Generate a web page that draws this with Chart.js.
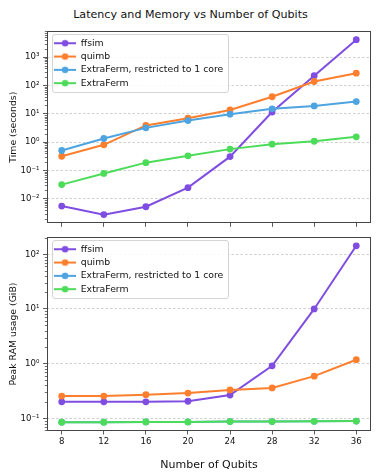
<!DOCTYPE html>
<html><head><meta charset="utf-8">
<script src="https://cdn.jsdelivr.net/npm/chart.js@4.4.1/dist/chart.umd.min.js"></script>
<style>
html,body{margin:0;padding:0;background:#fff;}
#wrap{position:relative;width:381px;height:476px;overflow:hidden;font-family:"DejaVu Sans";}
#title{position:absolute;left:0;top:7px;width:381px;text-align:center;font-size:11.1px;line-height:16px;color:#111;}
#c1{position:absolute;left:0;top:0;}
#c2{position:absolute;left:0;top:226px;}
</style></head><body>
<div id="wrap"><div id="title">Latency and Memory vs Number of Qubits</div>
<canvas id="c1" width="381" height="232"></canvas>
<canvas id="c2" width="381" height="250"></canvas></div>
<script>
const qubits = [8, 12, 16, 20, 24, 28, 32, 36];
const seriesNames = ['ffsim', 'quimb', 'ExtraFerm, restricted to 1 core', 'ExtraFerm'];
const seriesColors = ['#7f4de1', '#fd7f2e', '#4da4e0', '#4ddc59'];

const timeFfsim      = [0.0056, 0.0028, 0.0053, 0.025, 0.31, 11.5, 220, 4100];
const timeQuimb      = [0.32, 0.81, 3.9, 7.0, 13.7, 40, 138, 270];
const timeExtraFerm1 = [0.51, 1.35, 3.2, 5.8, 9.7, 15, 19, 27];
const timeExtraFerm  = [0.032, 0.079, 0.19, 0.33, 0.57, 0.85, 1.08, 1.55];

const memFfsim      = [0.2, 0.2, 0.2, 0.205, 0.266, 0.91, 10, 143];
const memQuimb      = [0.255, 0.255, 0.27, 0.29, 0.33, 0.36, 0.59, 1.18];
const memExtraFerm1 = [0.085, 0.085, 0.086, 0.086, 0.087, 0.087, 0.088, 0.089];
const memExtraFerm  = [0.085, 0.085, 0.086, 0.086, 0.087, 0.087, 0.088, 0.089];

const timeTicks = [1e-2, 1e-1, 1, 10, 100, 1000];
const memTicks = [1e-1, 1, 10, 100];
const timeLimits = [0.00138, 8300];
const memLimits = [0.0586, 207];
const xLimits = [6.6, 37.4];

const FONT = 'DejaVu Sans';
const SMALL = 9.3;
const TICKF = 8.6;
const LEG_PAD = 4;

const sup = {'-':'\u207B','0':'\u2070','1':'\u00B9','2':'\u00B2','3':'\u00B3','4':'\u2074','5':'\u2075','6':'\u2076','7':'\u2077','8':'\u2078','9':'\u2079'};
function pow10Label(v) {
  const e = Math.round(Math.log10(v));
  return '10' + String(e).split('').map(c => sup[c]).join('');
}

function makeIcon(color) {
  const c = document.createElement('canvas');
  c.width = 22; c.height = 10;
  const g = c.getContext('2d');
  g.strokeStyle = color; g.lineWidth = 2;
  g.beginPath(); g.moveTo(0, 5); g.lineTo(22, 5); g.stroke();
  g.fillStyle = color;
  g.beginPath(); g.arc(11, 5, 3.3, 0, Math.PI * 2); g.fill();
  return c;
}
const icons = seriesColors.map(makeIcon);

function ds(i, data) {
  return {
    label: seriesNames[i],
    data: qubits.map((q, k) => ({x: q, y: data[k]})),
    borderColor: seriesColors[i],
    backgroundColor: seriesColors[i],
    borderWidth: 2,
    pointRadius: 3.4,
    pointHoverRadius: 3.4,
    pointBorderWidth: 0,
    pointStyle: 'circle',
    tension: 0,
    order: 4 - i
  };
}

function yScale(lim, majors, title) {
  return {
    type: 'logarithmic', min: lim[0], max: lim[1], position: 'left',
    afterBuildTicks: s => { s.ticks = majors.map(v => ({value: v, major: true})); },
    afterFit: s => { s.width = 47; },
    ticks: {callback: v => pow10Label(v), font: {family: FONT, size: TICKF}, color: '#111', padding: 3.5, autoSkip: false, maxRotation: 0},
    grid: {color: 'rgba(170,170,170,0.7)', lineWidth: 0.8, tickLength: 4, tickColor: '#333', tickWidth: 0.8, drawTicks: true},
    border: {display: false, dash: [2.5, 2]},
    title: {display: true, text: title, font: {family: FONT, size: SMALL}, color: '#111', padding: {top: 8.4, bottom: 0}}
  };
}

function xScale(showLabels) {
  return {
    type: 'linear', min: xLimits[0], max: xLimits[1], position: 'bottom',
    afterBuildTicks: s => { s.ticks = qubits.map(v => ({value: v})); },
    afterFit: s => { s.height = showLabels ? 45 : 7; },
    ticks: {display: showLabels, callback: v => String(v), font: {family: FONT, size: TICKF}, color: '#111', padding: 2.5, autoSkip: false, maxRotation: 0},
    grid: {drawOnChartArea: false, tickLength: 3.5, tickColor: '#333', tickWidth: 0.8},
    border: {display: false},
    title: {display: showLabels, text: 'Number of Qubits', font: {family: FONT, size: 11}, color: '#111', padding: {top: 0, bottom: 4.4}}
  };
}

function drawFrame(chart) {
  const lg = chart.legend;
  const ctx = chart.ctx;
  ctx.save();
  ctx.font = SMALL + 'px "' + FONT + '"';
  let maxW = 0;
  lg.legendItems.forEach(it => { maxW = Math.max(maxW, ctx.measureText(it.text).width); });
  const n = lg.legendItems.length;
  const x0 = lg.left + LEG_PAD - 2.5;
  const x1 = lg.left + LEG_PAD + 22 + SMALL / 2 + maxW + 4;
  const cy0 = lg.top + LEG_PAD + SMALL / 2;
  const cyN = cy0 + (n - 1) * (SMALL + LEG_PAD);
  const y0 = cy0 - 9.2, y1 = cyN + 9.2;
  ctx.beginPath();
  ctx.roundRect(Math.round(x0) + 0.5, Math.round(y0) + 0.5, Math.round(x1 - x0), Math.round(y1 - y0), 2.5);
  ctx.fillStyle = 'rgba(255,255,255,0.85)';
  ctx.fill();
  ctx.strokeStyle = '#d4d4d4';
  ctx.lineWidth = 1;
  ctx.stroke();
  ctx.restore();
}

const legendPlace = {
  id: 'legendPlace',
  afterLayout(chart) {
    const lg = chart.legend, a = chart.chartArea;
    if (!lg) return;
    lg.left = a.left + 3.1;
    lg.top = a.top + 3.6;
    lg.right = a.right;
    lg.bottom = a.bottom;
    if (!lg._framed) {
      const orig = lg.draw.bind(lg);
      lg.draw = function (area) { drawFrame(chart); orig(area); };
      lg._framed = true;
    }
  }
};

const axesFrame = {
  id: 'axesFrame',
  afterDatasetsDraw(chart) {
    const ctx = chart.ctx, a = chart.chartArea, y = chart.scales.y;
    ctx.save();
    ctx.strokeStyle = '#333';
    ctx.lineWidth = 0.7;
    const lo = Math.floor(Math.log10(y.min)), hi = Math.ceil(Math.log10(y.max));
    for (let e = lo; e <= hi; e++) {
      for (let k = 2; k <= 9; k++) {
        const v = k * Math.pow(10, e);
        if (v < y.min || v > y.max) continue;
        const py = Math.round(y.getPixelForValue(v)) + 0.5;
        ctx.beginPath(); ctx.moveTo(a.left - 2.2, py); ctx.lineTo(a.left, py); ctx.stroke();
      }
    }
    ctx.strokeStyle = '#444';
    ctx.lineWidth = 1;
    const l = Math.floor(a.left) + 0.5, t = Math.floor(a.top) + 0.5;
    ctx.strokeRect(l, t, Math.round(a.right) - Math.floor(a.left) - 1, Math.round(a.bottom) - Math.floor(a.top) - 1);
    ctx.restore();
  }
};

const legendOpts = {
  position: 'chartArea', align: 'start',
  labels: {
    usePointStyle: true, pointStyleWidth: 22, boxHeight: SMALL, padding: LEG_PAD,
    font: {family: FONT, size: SMALL}, color: '#111',
    sort: (a, b) => a.datasetIndex - b.datasetIndex,
    generateLabels: chart => Chart.defaults.plugins.legend.labels.generateLabels(chart)
      .map(l => Object.assign(l, {pointStyle: icons[l.datasetIndex]}))
  }
};

function makeChart(id, datasets, xs, ys, pad) {
  return new Chart(document.getElementById(id), {
    type: 'line',
    data: {datasets},
    options: {
      responsive: false, devicePixelRatio: 1, animation: false, events: [],
      layout: {padding: pad},
      scales: {x: xs, y: ys},
      plugins: {legend: legendOpts, title: {display: false}, tooltip: {enabled: false}}
    },
    plugins: [legendPlace, axesFrame]
  });
}

makeChart('c1',
  [ds(0, timeFfsim), ds(1, timeQuimb), ds(2, timeExtraFerm1), ds(3, timeExtraFerm)],
  xScale(false), yScale(timeLimits, timeTicks, 'Time (seconds)'),
  {top: 31, right: 10, bottom: 0, left: 0});

makeChart('c2',
  [ds(0, memFfsim), ds(1, memQuimb), ds(2, memExtraFerm1), ds(3, memExtraFerm)],
  xScale(true), yScale(memLimits, memTicks, 'Peak RAM usage (GiB)'),
  {top: 11, right: 10, bottom: 0, left: 0});
</script>
</body></html>
